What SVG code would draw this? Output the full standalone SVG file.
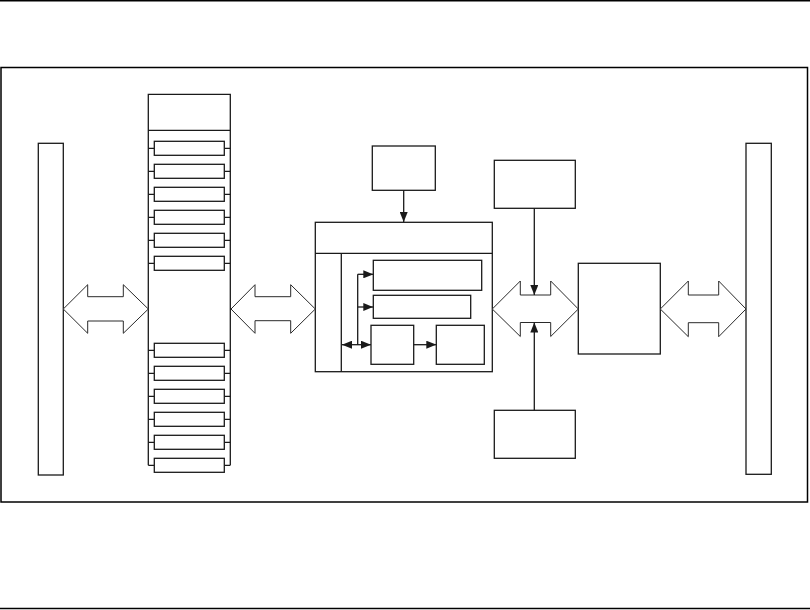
<svg xmlns="http://www.w3.org/2000/svg" width="810" height="610" viewBox="0 0 810 610">
<defs>
<style>
.b{fill:#fff;stroke:#1a1a1a;stroke-width:1.3}
.s{fill:none;stroke:#1a1a1a;stroke-width:1.3}
.da{fill:#fff;stroke:#2a2a2a;stroke-width:1}
.c{fill:none;stroke:#1a1a1a;stroke-width:1.3}
.rule{stroke:#000;stroke-width:1.5}
</style>
<marker id="ah" markerWidth="10" markerHeight="8" refX="10" refY="4" orient="auto-start-reverse" markerUnits="userSpaceOnUse">
<path d="M0,0 L10,4 L0,8 Z" fill="#1a1a1a"/>
</marker>
</defs>
<rect width="810" height="610" fill="#fff"/>
<line class="rule" x1="0" y1="0.75" x2="810" y2="0.75"/>
<line class="rule" x1="0" y1="608.5" x2="810" y2="608.5"/>
<rect x="1" y="67.5" width="806.5" height="434.5" fill="none" stroke="#000" stroke-width="1.5"/>

<g id="bus-left"><rect class="b" x="38.3" y="143.3" width="25" height="331.7"/></g>
<g id="bus-right"><rect class="b" x="746" y="143.3" width="25.3" height="331"/></g>

<g id="stack">
<path class="s" d="M148.3,465.3 V94.3 H230.3 V465.3 M148.3,130.3 H230.3"/>
<g id="slots-top">
<path class="s" d="M148.3,148.3 H154.3 M224.3,148.3 H230.3 M148.3,171.3 H154.3 M224.3,171.3 H230.3 M148.3,194.3 H154.3 M224.3,194.3 H230.3 M148.3,217.3 H154.3 M224.3,217.3 H230.3 M148.3,240.3 H154.3 M224.3,240.3 H230.3 M148.3,263.3 H154.3 M224.3,263.3 H230.3"/>
<rect class="b" x="154.3" y="141.3" width="70" height="14"/>
<rect class="b" x="154.3" y="164.3" width="70" height="14"/>
<rect class="b" x="154.3" y="187.3" width="70" height="14"/>
<rect class="b" x="154.3" y="210.3" width="70" height="14"/>
<rect class="b" x="154.3" y="233.3" width="70" height="14"/>
<rect class="b" x="154.3" y="256.3" width="70" height="14"/>
</g>
<g id="slots-bottom">
<path class="s" d="M148.3,350.3 H154.3 M224.3,350.3 H230.3 M148.3,373.3 H154.3 M224.3,373.3 H230.3 M148.3,396.3 H154.3 M224.3,396.3 H230.3 M148.3,419.3 H154.3 M224.3,419.3 H230.3 M148.3,442.3 H154.3 M224.3,442.3 H230.3 M148.3,465.3 H154.3 M224.3,465.3 H230.3"/>
<rect class="b" x="154.3" y="343.3" width="70" height="14"/>
<rect class="b" x="154.3" y="366.3" width="70" height="14"/>
<rect class="b" x="154.3" y="389.3" width="70" height="14"/>
<rect class="b" x="154.3" y="412.3" width="70" height="14"/>
<rect class="b" x="154.3" y="435.3" width="70" height="14"/>
<rect class="b" x="154.3" y="458.3" width="70" height="14"/>
</g>
</g>

<g id="top-box"><rect class="b" x="372.3" y="146" width="63" height="44.3"/></g>

<g id="core">
<rect class="b" x="315.3" y="222.3" width="177" height="149.4"/>
<path class="s" d="M315.3,253.3 H492.3 M341.3,253.3 V371.7"/>
<rect class="b" x="373.3" y="260.3" width="108.4" height="30"/>
<rect class="b" x="373.3" y="295.3" width="97.4" height="23"/>
<rect class="b" x="371" y="325.3" width="42.7" height="39"/>
<rect class="b" x="436.3" y="325.3" width="48" height="39"/>
</g>

<g id="box-tr"><rect class="b" x="494.3" y="160.3" width="81" height="48"/></g>
<g id="box-br"><rect class="b" x="494.3" y="410.3" width="81" height="48"/></g>
<g id="box-mid"><rect class="b" x="578.3" y="263.3" width="82" height="90.7"/></g>

<g id="connectors">
<path class="da" d="M63.3,309 L87.7,284.7 L87.7,296.7 L123.3,296.7 L123.3,284.7 L148.3,309 L123.3,333.3 L123.3,321 L87.7,321 L87.7,333.3 Z"/>
<path class="da" d="M231,309 L255,284.7 L255,296.7 L290.7,296.7 L290.7,284.7 L315.3,309 L290.7,333.3 L290.7,320.7 L255,320.7 L255,333.3 Z"/>
<path class="da" d="M492.3,309 L520.3,281 L520.3,295 L550.7,295 L550.7,281 L578.3,309 L550.7,336.5 L550.7,322.5 L520.3,322.5 L520.3,336.5 Z"/>
<path class="da" d="M660.3,309 L688.3,281 L688.3,295 L718.7,295 L718.7,281 L746,309 L718.7,336.7 L718.7,322.7 L688.3,322.7 L688.3,336.7 Z"/>
<line class="c" x1="403.7" y1="190.3" x2="403.7" y2="222" marker-end="url(#ah)"/>
<line class="c" x1="534.3" y1="208.3" x2="534.3" y2="295" marker-end="url(#ah)"/>
<line class="c" x1="534.3" y1="410.3" x2="534.3" y2="322.5" marker-end="url(#ah)"/>
<path class="c" d="M357.7,344.7 V274.3"/>
<line class="c" x1="357.7" y1="274.3" x2="373.3" y2="274.3" marker-end="url(#ah)"/>
<line class="c" x1="357.7" y1="307" x2="373.3" y2="307" marker-end="url(#ah)"/>
<line class="c" x1="342" y1="344.7" x2="371" y2="344.7" marker-start="url(#ah)" marker-end="url(#ah)"/>
<line class="c" x1="413.7" y1="344.7" x2="436.3" y2="344.7" marker-end="url(#ah)"/>
</g>
</svg>
